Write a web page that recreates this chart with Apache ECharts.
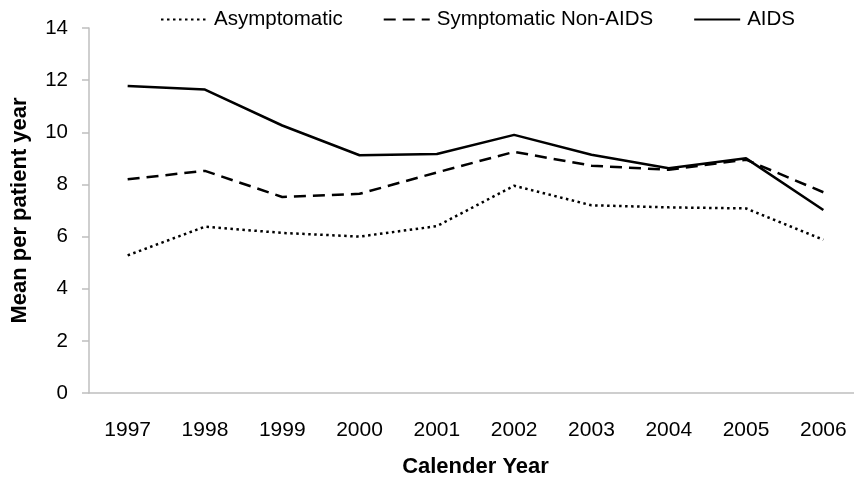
<!DOCTYPE html>
<html><head><meta charset="utf-8">
<script src="https://cdn.jsdelivr.net/npm/echarts@6/dist/echarts.min.js"></script>
<style>html,body{margin:0;padding:0;background:#fff}#c{width:854px;height:478px}</style>
</head><body><div id="c"></div>
<script>
const years = ['1997','1998','1999','2000','2001','2002','2003','2004','2005','2006'];
const asymptomatic = [5.28, 6.38, 6.14, 6.0, 6.4, 7.95, 7.2, 7.12, 7.08, 5.88];
const symptomaticNonAids = [8.2, 8.52, 7.52, 7.64, 8.46, 9.25, 8.72, 8.56, 8.95, 7.7];
const aids = [11.78, 11.64, 10.26, 9.12, 9.17, 9.9, 9.14, 8.62, 9.0, 7.02];
const yTicks = [0, 2, 4, 6, 8, 10, 12, 14];

const font = '"Liberation Sans", Arial, sans-serif';
const chart = echarts.init(document.getElementById('c'), null, {renderer: 'canvas'});
chart.setOption({
  animation: false,
  backgroundColor: '#fff',
  legend: {
    left: 155, top: 4,
    itemWidth: 46, itemHeight: 14, itemGap: 40,
    itemStyle: {opacity: 0},
    textStyle: {fontFamily: font, fontSize: 20.5, color: '#000', padding: [0, 0, 0, 2]},
    data: ['Asymptomatic', 'Symptomatic Non-AIDS', 'AIDS']
  },
  grid: {left: 89, right: -8, top: 28, bottom: 85, containLabel: false, outerBoundsMode: 'none'},
  xAxis: {
    type: 'category', data: years, boundaryGap: true,
    axisLine: {lineStyle: {color: '#bfbfbf', width: 1.5}},
    axisTick: {show: false},
    axisLabel: {fontFamily: font, fontSize: 21, color: '#000', margin: 27},
    name: 'Calender Year', nameLocation: 'middle', nameGap: 63,
    nameTextStyle: {fontFamily: font, fontSize: 22, fontWeight: 'bold', color: '#000'}
  },
  yAxis: {
    type: 'value', min: yTicks[0], max: yTicks[yTicks.length - 1], interval: 2,
    splitLine: {show: false},
    axisLine: {show: true, lineStyle: {color: '#bfbfbf', width: 1.5}},
    axisTick: {show: true, length: 7, lineStyle: {color: '#bfbfbf', width: 1.5}},
    axisLabel: {fontFamily: font, fontSize: 20.5, color: '#000', margin: 21},
    name: 'Mean per patient year', nameLocation: 'middle', nameGap: 58,
    nameTextStyle: {fontFamily: font, fontSize: 22, fontWeight: 'bold', color: '#000'}
  },
  series: [
    {name: 'Asymptomatic', type: 'line', data: asymptomatic, symbol: 'none',
     lineStyle: {color: '#000', width: 2.5, type: [2.5, 3.5]}, itemStyle: {color: '#000'}},
    {name: 'Symptomatic Non-AIDS', type: 'line', data: symptomaticNonAids, symbol: 'none',
     lineStyle: {color: '#000', width: 2.5, type: [12, 7]}, itemStyle: {color: '#000'}},
    {name: 'AIDS', type: 'line', data: aids, symbol: 'none',
     lineStyle: {color: '#000', width: 2.5, type: 'solid'}, itemStyle: {color: '#000'}}
  ]
});
</script></body></html>
